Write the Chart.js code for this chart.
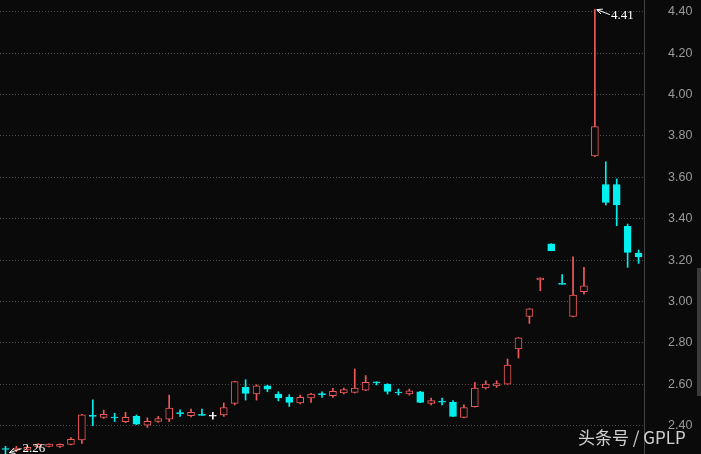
<!DOCTYPE html>
<html><head><meta charset="utf-8">
<script src="https://cdn.jsdelivr.net/npm/chart.js@4.4.1/dist/chart.umd.min.js"></script>
<style>
html,body{margin:0;padding:0;background:#0a0a0a;overflow:hidden;width:701px;height:454px;}
#wrap{position:absolute;left:0;top:0;width:701px;height:454px;}
#wm{position:absolute;left:578px;top:426px;font-size:17px;font-family:"Noto Sans CJK SC",sans-serif;color:rgba(230,230,230,0.9);white-space:nowrap;line-height:22px;}
#sb{position:absolute;left:697px;top:268px;width:4px;height:128px;background:#3a3a3a;}
</style></head><body>
<div id="wrap"><canvas id="c" width="701" height="454"></canvas></div>
<div id="sb"></div>
<div id="wm">头条号 / GPLP</div>
<script>
const categories = Array.from({length: 59}, (_, i) => 'D' + (i + 1));
const openValues  = [2.290,2.283,2.285,2.298,2.300,2.300,2.310,2.331,2.450,2.440,2.442,2.420,2.445,2.403,2.421,2.432,2.463,2.448,2.454,2.448,2.452,2.508,2.585,2.553,2.593,2.553,2.537,2.510,2.534,2.555,2.545,2.558,2.561,2.572,2.612,2.601,2.563,2.553,2.564,2.508,2.519,2.513,2.440,2.492,2.582,2.592,2.601,2.771,2.928,3.104,3.278,3.087,2.928,3.047,3.703,3.565,3.565,3.363,3.234];
const highValues  = [2.300,2.300,2.300,2.314,2.313,2.312,2.343,2.455,2.525,2.475,2.460,2.465,2.452,2.438,2.445,2.548,2.477,2.480,2.480,2.464,2.510,2.615,2.622,2.598,2.596,2.564,2.550,2.548,2.556,2.564,2.580,2.582,2.674,2.642,2.612,2.603,2.577,2.577,2.566,2.534,2.534,2.521,2.501,2.609,2.617,2.617,2.722,2.826,2.966,3.115,3.279,3.130,3.216,3.165,4.410,3.675,3.592,3.374,3.249];
const lowValues   = [2.260,2.275,2.280,2.296,2.298,2.295,2.307,2.314,2.400,2.435,2.420,2.415,2.405,2.392,2.416,2.420,2.445,2.443,2.450,2.432,2.445,2.500,2.524,2.524,2.564,2.520,2.493,2.505,2.513,2.537,2.537,2.553,2.558,2.569,2.597,2.553,2.548,2.548,2.511,2.501,2.501,2.444,2.438,2.490,2.577,2.585,2.600,2.727,2.894,3.052,3.245,3.083,2.926,3.036,3.700,3.466,3.366,3.165,3.184];
const closeValues = [2.285,2.292,2.295,2.310,2.311,2.310,2.334,2.453,2.445,2.455,2.437,2.440,2.407,2.421,2.435,2.485,2.458,2.464,2.450,2.448,2.488,2.613,2.556,2.593,2.577,2.534,2.513,2.537,2.553,2.551,2.566,2.574,2.582,2.609,2.607,2.566,2.558,2.569,2.513,2.521,2.514,2.445,2.488,2.582,2.601,2.604,2.693,2.824,2.964,3.113,3.245,3.083,3.031,3.076,3.845,3.479,3.466,3.237,3.216];
const yTickValues = [2.40,2.60,2.80,3.00,3.20,3.40,3.60,3.80,4.00,4.20,4.40];

const BG = '#0a0a0a';
const UP = '#f05a5a';
const DOWN = '#00f0f0';
const FLAT = '#ffffff';
const MIN_BODY = 0.005; // minimum drawn body height so doji bodies show as a line
function colorFor(i){
  const o = openValues[i], c = closeValues[i];
  if (c > o) return UP;
  if (c < o) return DOWN;
  return FLAT;
}

const annotatePlugin = {
  id: 'extremes',
  afterDatasetsDraw(chart){
    const ctx = chart.ctx, xs = chart.scales.x, ys = chart.scales.y;
    const hi = Math.max(...highValues), hiIdx = highValues.indexOf(hi);
    const lo = Math.min(...lowValues), loIdx = lowValues.indexOf(lo);
    function arrow(tx, ty, ex, ey){
      ctx.beginPath(); ctx.moveTo(tx, ty); ctx.lineTo(ex, ey); ctx.stroke();
      const a = Math.atan2(ey - ty, ex - tx);
      ctx.beginPath();
      ctx.moveTo(tx + 6*Math.cos(a+0.45), ty + 6*Math.sin(a+0.45));
      ctx.lineTo(tx, ty);
      ctx.lineTo(tx + 6*Math.cos(a-0.45), ty + 6*Math.sin(a-0.45));
      ctx.stroke();
    }
    ctx.save();
    ctx.strokeStyle = '#ffffff'; ctx.fillStyle = '#ffffff'; ctx.lineWidth = 1;
    ctx.font = '13px "Liberation Serif", serif';
    ctx.textBaseline = 'middle'; ctx.textAlign = 'left';
    let x = xs.getPixelForValue(hiIdx), y = ys.getPixelForValue(hi);
    arrow(x + 2, y, x + 15, y + 5);
    ctx.fillText(hi.toFixed(2), x + 16, y + 6);
    x = xs.getPixelForValue(loIdx); y = ys.getPixelForValue(lo);
    arrow(x + 4, y - 2, x + 16, y - 6);
    ctx.fillText(lo.toFixed(2), x + 17, y - 6);
    ctx.restore();
  }
};

new Chart(document.getElementById('c'), {
  type: 'bar',
  data: {
    labels: categories,
    datasets: [
      {
        label: 'wick',
        data: lowValues.map((l, i) => [l, highValues[i]]),
        backgroundColor: ctx => colorFor(ctx.dataIndex),
        borderWidth: 0,
        barThickness: 1,
        grouped: false,
        order: 2
      },
      {
        label: 'body',
        data: openValues.map((o, i) => {
          const c = closeValues[i];
          if (Math.abs(c - o) < MIN_BODY) { const m = (o + c) / 2; return [m - MIN_BODY / 2, m + MIN_BODY / 2]; }
          return [o, c];
        }),
        backgroundColor: ctx => (closeValues[ctx.dataIndex] > openValues[ctx.dataIndex] ? BG : colorFor(ctx.dataIndex)),
        borderColor: ctx => colorFor(ctx.dataIndex),
        borderWidth: 1,
        borderSkipped: false,
        barThickness: 7,
        grouped: false,
        order: 1
      }
    ]
  },
  options: {
    responsive: false,
    animation: false,
    layout: { padding: 0 },
    plugins: { legend: { display: false }, tooltip: { enabled: false } },
    scales: {
      x: { type: 'category', display: false, offset: true, grid: { display: false } },
      y: {
        position: 'right',
        min: 2.2633,
        max: 4.4565,
        afterBuildTicks: s => { s.ticks = yTickValues.map(v => ({ value: v })); },
        afterFit: s => { s.width = 57; s.paddingTop = 0; s.paddingBottom = 0; },
        ticks: {
          color: '#9a9a9a',
          padding: 24,
          font: { family: '"Liberation Sans", Arial, sans-serif', size: 12.5 },
          callback: v => Number(v).toFixed(2)
        },
        grid: { color: '#4a4a4a', drawTicks: false, lineWidth: 1 },
        border: { display: true, color: '#444444', width: 1, dash: [1, 2] }
      }
    }
  },
  plugins: [annotatePlugin]
});
</script>
</body></html>
